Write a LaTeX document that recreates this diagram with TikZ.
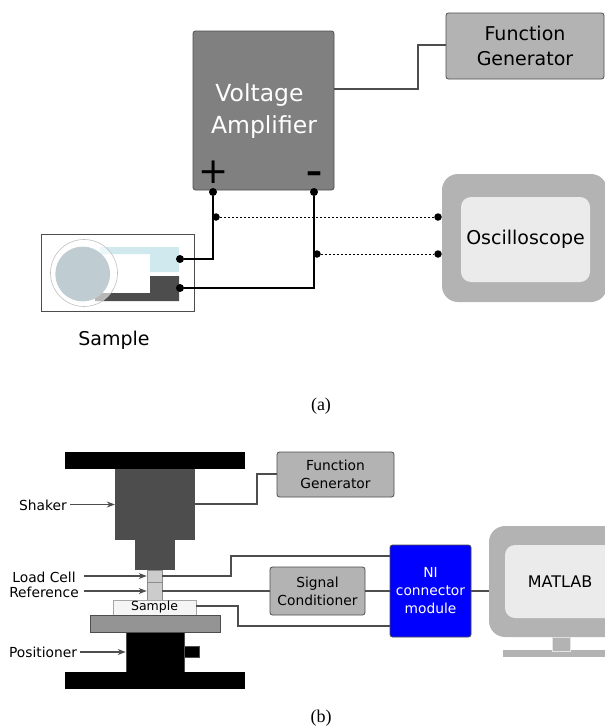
\documentclass[tikz,border=0pt]{standalone}
\usepackage{fontspec}
\setmainfont{DejaVu Sans}
\newfontfamily\capfont{Liberation Serif}
\usetikzlibrary{arrows.meta}
\definecolor{ampgray}{HTML}{808080}
\definecolor{boxgray}{HTML}{B3B3B3}
\definecolor{pale}{HTML}{EBEBEB}
\definecolor{wire}{HTML}{4D4D4D}
\definecolor{ltblue}{HTML}{CFE9EF}
\definecolor{discgray}{HTML}{BFCDD2}
\tikzset{
	box/.style={draw=wire, rounded corners=2.5pt, line width=0.8pt, inner sep=0pt, align=center},
	solid block/.style={draw=none, inner sep=0pt},
	screen/.style={fill=boxgray, rounded corners=16pt, inner sep=0pt, align=center},
	termdot/.style={circle, fill=black, minimum size=8pt, inner sep=0pt},
	wireline/.style={draw=wire, line width=1.2pt},
	lead/.style={black, line width=1.2pt},
	probe/.style={black, line width=0.8pt, dash pattern=on 2.5pt off 1.5pt},
	pointer/.style={-{Stealth[length=8pt,width=6pt,fill=black]}, draw=wire, line width=1.1pt},
	big/.style={font=\fontsize{23.5}{32}\selectfont},
	mid/.style={font=\fontsize{19}{25}\selectfont},
	small/.style={font=\fontsize{13.8}{18}\selectfont},
	caplabel/.style={font=\capfont\fontsize{18}{20}\selectfont}
}
\begin{document}
\begin{tikzpicture}[x=1pt,y=-1pt]
	\useasboundingbox (0,0) rectangle (605,726);
	% top: amplifier circuit
	\node[box, fill=ampgray, minimum width=141pt, minimum height=159pt] (amp) at (263.5,110.5) {};
	\node[big, text=white, align=center] (amptext) at (259.5,111.5) {Voltage\\\hspace*{9pt}Amplifier};
	\node[font=\fontsize{36}{36}\selectfont] (plus) at (214,172) {+};
	\node[font=\bfseries\fontsize{32}{32}\selectfont] (minus) at (314,177) {–};
	\node[box, mid, fill=boxgray, minimum width=158pt, minimum height=66pt] (fgen) at (525,46) {Function\\Generator};
	\node[screen, minimum width=165pt, minimum height=128pt] (scope) at (524.5,238) {};
	\node[fill=pale, rounded corners=10pt, minimum width=129pt, minimum height=85pt, inner sep=0pt, mid] (scopein) at (525.5,239.5) {Oscilloscope};
	\coordinate (ampout) at (334,89);
	\coordinate (fgin) at (446,45);
	\draw[wireline] (ampout) -- (418,89) -- (418,45) -- (fgin);
	% the sample
	\node[draw=wire, line width=0.8pt, minimum width=153pt, minimum height=77pt, inner sep=0pt] (sample) at (117.5,272.5) {};
	\fill[ltblue] (100,247) -- (179,247) -- (179,272) -- (150,272) -- (150,254) -- (100,254) -- cycle;
	\fill[wire] (150,276) -- (179,276) -- (179,301) -- (95,301) -- (95,293) -- (150,293) -- cycle;
	\fill[white, fill opacity=0.6] (84,273) circle (33.5);
	\draw[black!25, line width=0.6pt] (84,273) circle (33.5);
	\fill[discgray] (82.7,274) circle (27.4);
	\node[mid] (samplelabel) at (114,340) {Sample};
	\node[termdot] (tplus) at (213,192) {};
	\node[termdot] (tminus) at (314,192) {};
	\node[termdot] (splus) at (180,259) {};
	\node[termdot] (sminus) at (180,288) {};
	\draw[lead] (tplus) |- (splus);
	\draw[lead] (tminus) |- (sminus);
	\node[termdot, minimum size=7.5pt] (pplus) at (216,217) {};
	\node[termdot, minimum size=7.5pt] (pminus) at (317,254) {};
	\node[termdot, minimum size=7.5pt] (cplus) at (438,217) {};
	\node[termdot, minimum size=7.5pt] (cminus) at (438,254) {};
	\draw[probe] (pplus) -- (cplus);
	\draw[probe] (pminus) -- (cminus);
	\node[caplabel] (capa) at (321,406) {(a)};
	% bottom: shaker rig
	\node[solid block, fill=black, minimum width=180pt, minimum height=17pt] (topplate) at (155,460.5) {};
	\node[solid block, fill=wire, minimum width=80pt, minimum height=71pt] (shaker) at (155,504.5) {};
	\node[solid block, fill=wire, minimum width=40pt, minimum height=30pt] (stinger) at (155,555) {};
	\node[draw=black!45, fill=black!20, line width=0.6pt, minimum width=15pt, minimum height=12pt, inner sep=0pt] (loadcell) at (154.5,576) {};
	\node[draw=black!45, fill=black!20, line width=0.6pt, minimum width=15pt, minimum height=18pt, inner sep=0pt] (refcell) at (154.5,591) {};
	\node[draw=black!35, fill=black!4, line width=0.6pt, minimum width=83pt, minimum height=15pt, inner sep=0pt, font=\fontsize{12.5}{14}\selectfont] (samplebox) at (154.5,607.5) {Sample};
	\node[draw=wire, fill=black!42, line width=0.6pt, minimum width=130pt, minimum height=17pt, inner sep=0pt] (stage) at (155,623.5) {};
	\node[draw=wire, fill=black, line width=0.6pt, minimum width=58pt, minimum height=40pt, inner sep=0pt] (positioner) at (155,652) {};
	\node[draw=wire, fill=black, line width=0.6pt, minimum width=15pt, minimum height=11pt, inner sep=0pt] (knob) at (191.5,651.5) {};
	\node[solid block, fill=black, minimum width=180pt, minimum height=17pt] (baseplate) at (155,680.5) {};
	% labels on the left
	\node[small] (shakerlabel) at (43,505) {Shaker};
	\node[small] (loadlabel) at (44,577) {Load Cell};
	\node[small] (reflabel) at (44,592) {Reference};
	\node[small] (poslabel) at (43,652) {Positioner};
	\coordinate (shakertail) at (70,504.5);
	\coordinate (loadtail) at (84,576);
	\coordinate (reftail) at (84,591);
	\coordinate (postail) at (80,652);
	\draw[pointer] (shakertail) -- (shaker.west);
	\draw[pointer] (loadtail) -- (loadcell.west);
	\draw[pointer] (reftail) -- (refcell.west);
	\draw[pointer] (postail) -- (positioner.west);
	% instruments
	\node[box, small, fill=boxgray, minimum width=117pt, minimum height=45pt] (fgen2) at (335.5,474.5) {Function\\Generator};
	\node[box, small, fill=boxgray, minimum width=95pt, minimum height=48pt] (cond) at (317.5,591) {Signal\\Conditioner};
	\node[box, small, fill=blue, text=white, minimum width=81pt, minimum height=92pt] (ni) at (430.5,591) {NI\\connector\\module};
	\node[fill=boxgray, minimum width=102pt, minimum height=7pt, inner sep=0pt] (foot) at (554,653.5) {};
	\node[fill=boxgray, minimum width=18pt, minimum height=14pt, inner sep=0pt, draw=black!10, line width=0.7pt] (stand) at (561.5,644) {};
	\node[screen, minimum width=140pt, minimum height=111pt] (monitor) at (559,581.5) {};
	\node[fill=pale, rounded corners=10pt, minimum width=130pt, minimum height=73pt, inner sep=0pt] (monin) at (570,581.5) {};
	\node[font=\fontsize{16}{20}\selectfont] (matlab) at (560,582) {MATLAB};
	% wires of the bottom part
	\coordinate (shakerout) at (195,504);
	\coordinate (fgen2in) at (277,474);
	\draw[wireline] (shakerout) -- (257,504) -- (257,474) -- (fgen2in);
	\coordinate (loadout) at (162,576);
	\coordinate (niload) at (390,556);
	\draw[wireline] (loadout) -- (231,576) -- (231,556) -- (niload);
	\draw[wireline] (refcell.east) -- (cond.west);
	\draw[wireline] (cond.east) -- (ni.west);
	\draw[wireline] (ni.east) -- (monitor.west |- ni.east);
	\coordinate (sampleout) at (196,606);
	\coordinate (nisample) at (390,626);
	\draw[wireline] (sampleout) -- (238,606) -- (238,626) -- (nisample);
	\node[caplabel] (capb) at (321,718) {(b)};
\end{tikzpicture}
\end{document}
